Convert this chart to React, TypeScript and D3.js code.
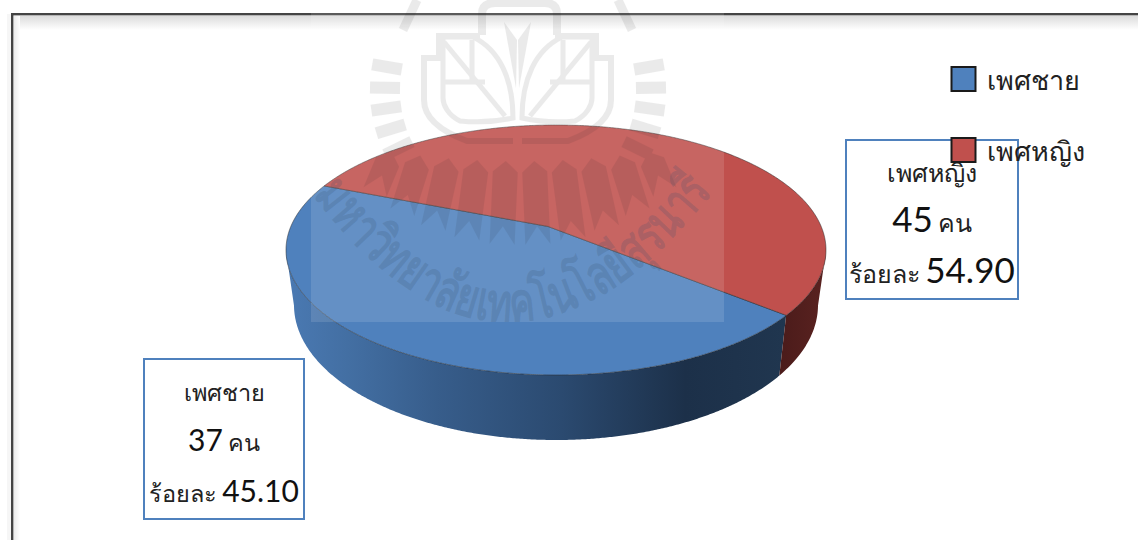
import React from "react";
import * as d3 from "d3";

const categories = ["เพศชาย", "เพศหญิง"];
const counts = [37, 45];
const percents = ["45.10", "54.90"];
const countUnit = "คน";
const percentWord = "ร้อยละ";
const topColors = ["#4f81bd", "#c0504d"];
const watermarkText = "มหาวิทยาลัยเทคโนโลยีสุรนารี";

const W = 1138;
const H = 540;
const top = { cx: 556, cy: 250, rx: 270, ry: 125 };
const bottom = { cx: 556, cy: 305, rx: 262, ry: 135 };
// perspective shift of the pie's true centre, expressed on the unit disc
const shift = { re: -0.015, im: -0.095 };
const startAngle = (129.4 * Math.PI) / 180;

// disc map: true angle on the plate -> parameter on the drawn ellipse
function rimParam(pieAngle: number): number {
  const a = pieAngle - Math.PI / 2;
  const wr = Math.cos(a);
  const wi = Math.sin(a);
  const nr = wr + shift.re;
  const ni = wi + shift.im;
  const dr = 1 + (shift.re * wr + shift.im * wi);
  const di = shift.re * wi - shift.im * wr;
  const m = dr * dr + di * di;
  return Math.atan2((ni * dr - nr * di) / m, (nr * dr + ni * di) / m);
}
const onEllipse = (e: typeof top, t: number): [number, number] => [
  e.cx + e.rx * Math.cos(t),
  e.cy + e.ry * Math.sin(t),
];
const kleinScale = 2 / (1 + shift.re * shift.re + shift.im * shift.im);
const vertex: [number, number] = [
  top.cx + top.rx * shift.re * kleinScale,
  top.cy + top.ry * shift.im * kleinScale,
];

const pieGen = d3
  .pie<number>()
  .sort(null)
  .startAngle(startAngle)
  .endAngle(startAngle + 2 * Math.PI);
const slices = pieGen(counts);
const line = d3.line();

function sliceGeometry(s: d3.PieArcDatum<number>) {
  const params = d3
    .range(0, 481)
    .map((i) => rimParam(s.startAngle + ((s.endAngle - s.startAngle) * i) / 480));
  const face = line([vertex, ...params.map((t) => onEllipse(top, t))]) + "Z";
  const front = params.filter((t) => Math.sin(t) >= 0);
  const wall =
    line([
      ...front.map((t) => onEllipse(top, t)),
      ...front.slice().reverse().map((t) => onEllipse(bottom, t)),
    ]) + "Z";
  return { face, wall };
}
const geometry = slices.map(sliceGeometry);

const wallStops: [number, string][] = [
  [0, "#4a79b2"],
  [0.12, "#436fa3"],
  [0.3, "#375d8b"],
  [0.55, "#2b4a70"],
  [0.8, "#1c3049"],
  [1, "#20364f"],
];

const sideRays = d3.range(64, 106, 9);
const lowerRays = d3.range(-4.5, 5, 1);

function SideRay({ deg }: { deg: number }) {
  const pts: [number, number][] = [
    [-6, 118],
    [6, 118],
    [6, 148],
    [-6, 148],
  ];
  return (
    <path
      transform={`translate(518,90) rotate(${-deg})`}
      d={(line(pts) as string) + "Z"}
      fill="#000"
    />
  );
}

function LowerRay({ k }: { k: number }) {
  const half = 12.5;
  const len = 84 - k * k * 2;
  const pts: [number, number][] = [
    [-half, 11],
    [0, 0],
    [half, 11],
    [half, len],
    [0, len - 18],
    [-half, len],
  ];
  return (
    <path
      transform={`translate(${520 + 28.5 * k},${161 - k * k * 0.45}) rotate(${-k * 5})`}
      d={(line(pts) as string) + "Z"}
      fill="#000"
    />
  );
}

function HalfLeaf() {
  return (
    <g fill="none" stroke="#000" strokeWidth={6}>
      <path d="M513,141 L467,141 Q424,125 424,100 L424,58 L439,58 L439,36 L480,36" />
      <path d="M443,37 L473,37 C500,50 513,80 513,118 C490,123 470,122 460,121 C448,115 443,105 443,98 Z" strokeWidth={5} />
      <path d="M444,42 L505,116" strokeWidth={5} />
      <path d="M443,82 L485,82" strokeWidth={5} />
      <path d="M472,40 L472,82" strokeWidth={5} />
      <path d="M417,0 L403,30" strokeWidth={9} />
      <path d="M504,22 L516,88 L517,40 Z" fill="#000" stroke="none" />
    </g>
  );
}

const sans = "'Noto Sans', 'DejaVu Sans', sans-serif";
const digits = "Lato, 'Noto Sans', sans-serif";

function InfoBox(props: {
  x: number;
  y: number;
  w: number;
  h: number;
  idx: number;
  numSize: number;
  thaiSize: number;
}) {
  const { x, y, w, h, idx, numSize, thaiSize } = props;
  const mid = x + w / 2;
  return (
    <g>
      <rect x={x} y={y} width={w} height={h} fill="#fff" stroke="#4f81bd" strokeWidth={2} />
      <text x={mid} y={y + 42} textAnchor="middle" fontFamily={sans} fontSize={thaiSize} fill="#222">
        {categories[idx]}
      </text>
      <text x={mid} y={y + 92} textAnchor="middle" fontFamily={sans} fontSize={thaiSize} fill="#222">
        <tspan fontFamily={digits} fontSize={numSize} fill="#111">{counts[idx]}</tspan>
        <tspan dx={5}>{countUnit}</tspan>
      </text>
      <text x={mid} y={y + 143} textAnchor="middle" fontFamily={sans} fontSize={thaiSize} fill="#222">
        <tspan>{percentWord}</tspan>
        <tspan dx={5} fontFamily={digits} fontSize={numSize} fill="#111">{percents[idx]}</tspan>
      </text>
    </g>
  );
}

export default function App() {
  return (
    <svg
      width={W}
      height={H}
      viewBox={`0 0 ${W} ${H}`}
      style={{ position: "absolute", left: 0, top: 0, display: "block" }}
    >
      <defs>
        <linearGradient id="wallBlue" gradientUnits="userSpaceOnUse" x1={288} x2={785} y1={0} y2={0}>
          {wallStops.map(([o, c]) => (
            <stop key={o} offset={o} stopColor={c} />
          ))}
        </linearGradient>
        <linearGradient id="wallRed" gradientUnits="userSpaceOnUse" x1={778} x2={826} y1={0} y2={0}>
          <stop offset={0} stopColor="#4a1b1a" />
          <stop offset={1} stopColor="#5a2220" />
        </linearGradient>
        <linearGradient id="shadeTop" x1={0} x2={0} y1={0} y2={1}>
          <stop offset={0} stopColor="#dcdcdc" />
          <stop offset={1} stopColor="#ffffff" />
        </linearGradient>
        <linearGradient id="shadeLeft" x1={0} x2={1} y1={0} y2={0}>
          <stop offset={0} stopColor="#ececec" />
          <stop offset={1} stopColor="#ffffff" />
        </linearGradient>
        <clipPath id="wmClip">
          <rect x={311} y={0} width={413} height={322} />
        </clipPath>
        <path id="wmArc" d="M313,195 Q515,460 728,172" />
      </defs>

      <rect width={W} height={H} fill="#fff" />

      {/* frame */}
      <rect x={14} y={16} width={W - 14} height={14} fill="url(#shadeTop)" />
      <rect x={14} y={16} width={6} height={H - 16} fill="url(#shadeLeft)" />
      <rect x={7} y={14} width={4} height={H - 14} fill="#f6f6f6" />
      <rect x={11} y={13} width={W - 11} height={2.4} fill="#444" />
      <rect x={11} y={13} width={2.4} height={H - 13} fill="#444" />

      {/* pie */}
      <path d={geometry[0].wall} fill="url(#wallBlue)" />
      <path d={geometry[1].wall} fill="url(#wallRed)" />
      {geometry.map((g, i) => (
        <path key={i} d={g.face} fill={topColors[i]} stroke="#2a2a2a" strokeWidth={0.7} strokeOpacity={0.75} />
      ))}

      {/* watermark */}
      <g clipPath="url(#wmClip)">
        <g opacity={0.085}>
          {sideRays.map((d) => (
            <g key={d}>
              <SideRay deg={d} />
              <SideRay deg={-d} />
            </g>
          ))}
          {lowerRays.map((k) => (
            <LowerRay key={k} k={k} />
          ))}
          <path
            d="M482,35 L482,14 Q482,3 495,3 L545,3 Q557,3 557,14 L557,35"
            fill="none"
            stroke="#000"
            strokeWidth={8}
          />
          <HalfLeaf />
          <g transform="translate(1035,0) scale(-1,1)">
            <HalfLeaf />
          </g>
        </g>
        <text fontFamily={sans} fontSize={54} fontWeight={700} fill="#1a3a5c" fillOpacity={0.2}>
          <textPath href="#wmArc" textLength={492} lengthAdjust="spacingAndGlyphs">
            {watermarkText}
          </textPath>
        </text>
        <rect x={311} y={0} width={413} height={322} fill="#fff" opacity={0.12} />
      </g>

      {/* data boxes */}
      <InfoBox x={846} y={140} w={172} h={159} idx={1} numSize={35} thaiSize={25} />
      <InfoBox x={144} y={359} w={160} h={160} idx={0} numSize={30} thaiSize={23.5} />

      {/* legend */}
      {categories.map((c, i) => {
        const y = 67 + i * 71;
        return (
          <g key={c}>
            <rect x={951.5} y={y} width={24} height={24} fill={topColors[i]} stroke="#1a1a1a" strokeWidth={2} />
            <text x={987} y={y + 23} fontFamily={sans} fontSize={27} fill="#222">
              {c}
            </text>
          </g>
        );
      })}
    </svg>
  );
}
